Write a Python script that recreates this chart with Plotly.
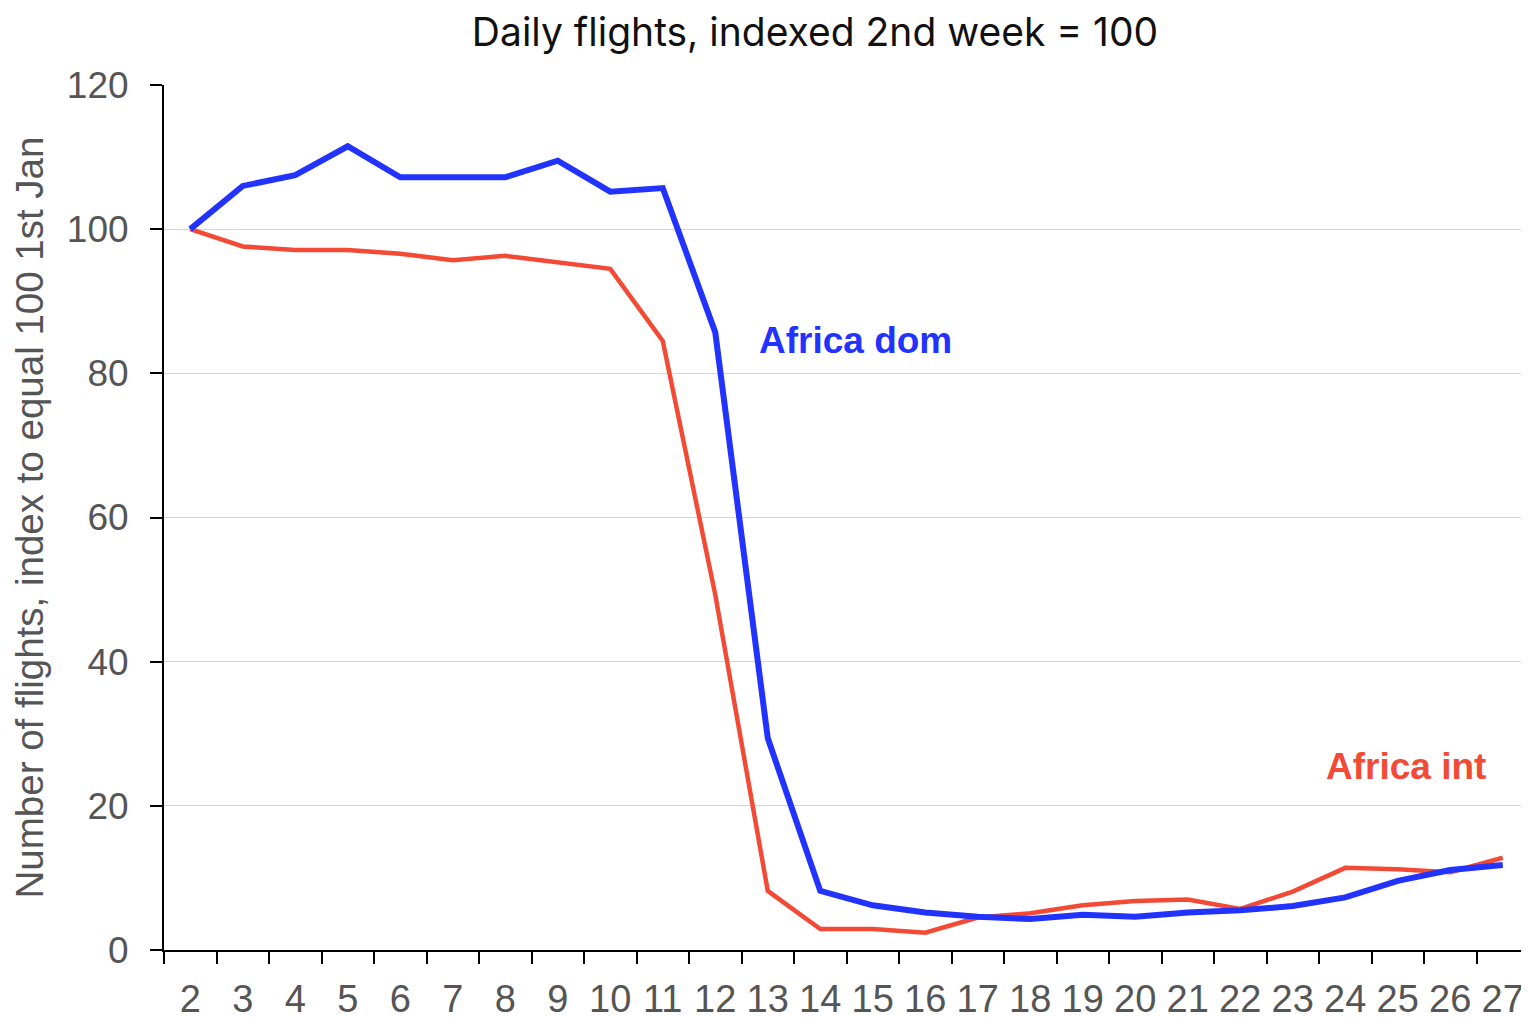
import plotly.graph_objects as go

days = [str(d) for d in range(2, 28)]
africa_dom = [100, 106.0, 107.5, 111.5, 107.2, 107.1, 107.2, 109.5, 105.2, 105.7,
              85.7, 29.4, 8.2, 6.2, 5.2, 4.6, 4.3, 4.9, 4.6, 5.2,
              5.5, 6.1, 7.3, 9.6, 11.1, 11.8]
africa_int = [100, 97.6, 97.1, 97.1, 96.6, 95.7, 96.3, 95.4, 94.5, 84.5,
              49.3, 8.2, 2.9, 2.9, 2.4, 4.5, 5.1, 6.2, 6.8, 7.0,
              5.7, 8.1, 11.4, 11.2, 10.8, 12.8]
y_ticks = [0, 20, 40, 60, 80, 100, 120]

BLUE = "#2233FF"
RED = "#F24A35"
ARIAL = "Liberation Sans, Arial, sans-serif"

fig = go.Figure()
fig.add_trace(go.Scatter(x=days, y=africa_int, mode="lines", name="Africa int",
                         line=dict(color=RED, width=4.5)))
fig.add_trace(go.Scatter(x=days, y=africa_dom, mode="lines", name="Africa dom",
                         line=dict(color=BLUE, width=6)))

fig.add_annotation(x=10.8, y=84.6, text="<b>Africa dom</b>", showarrow=False,
                   xanchor="left", yanchor="middle",
                   font=dict(family=ARIAL, size=37, color=BLUE))
fig.add_annotation(x=24.71, y=25.4, text="<b>Africa int</b>", showarrow=False,
                   xanchor="right", yanchor="middle",
                   font=dict(family=ARIAL, size=37, color=RED))

fig.update_layout(
    width=1529, height=1020,
    margin=dict(l=156, r=8, t=77, b=78),
    paper_bgcolor="white", plot_bgcolor="white",
    showlegend=False,
    title=dict(text="Daily flights, indexed 2nd week = 100",
               x=807/1529, xanchor="center", y=0.976, yanchor="middle",
               font=dict(family="Inter, sans-serif", size=39, color="#111")),
    xaxis=dict(type="category", range=[-0.5, 25.5], tickson="boundaries",
               ticks="outside", ticklen=12, tickwidth=2, tickcolor="black",
               showline=True, linecolor="black", linewidth=2, showgrid=False,
               ticklabelstandoff=14,
               tickfont=dict(family=ARIAL, size=38, color="#555")),
    yaxis=dict(range=[0, 120], tickvals=y_ticks, ticks="outside", ticklen=12,
               tickwidth=2, tickcolor="black", showline=True, linecolor="black",
               linewidth=2, showgrid=True, gridcolor="#d6d6d6", gridwidth=1,
               zeroline=False, ticklabelstandoff=14,
               tickfont=dict(family=ARIAL, size=37, color="#555"),
               title=dict(text="Number of flights, index to equal 100 1st Jan",
                          standoff=16,
                          font=dict(family=ARIAL, size=38.5, color="#555"))),
)

fig.write_html("out.html")
